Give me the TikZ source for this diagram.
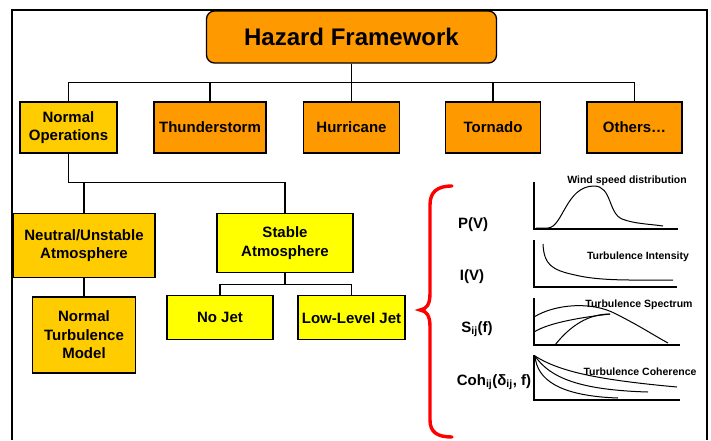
\documentclass[tikz,border=0pt]{standalone}
\usepackage{fontspec}
\setmainfont{Liberation Sans}
\usepackage{tikz}
\usetikzlibrary{positioning}

\definecolor{hazorange}{HTML}{FF9900}
\definecolor{opsyellow}{HTML}{FFCC00}
\definecolor{stableyellow}{HTML}{FFFF00}

\begin{document}
\begin{tikzpicture}[x=1pt, y=-1pt, line width=1.1pt,
font=\bfseries\fontsize{15}{18.5}\selectfont,
box/.style={draw, line width=1.3pt, align=center, inner sep=0pt},
axis/.style={line width=2pt},
curve/.style={line width=1pt},
plotlabel/.style={font=\bfseries\fontsize{10.5}{12}\selectfont, inner sep=0pt},
node distance = 141.5pt]

\useasboundingbox (0,0) rectangle (711,440);

% frame
\draw [line width=1.6pt] (12,440) -- (12,10) -- (707,10) -- (707,440);

\node [box, rounded corners=8pt, fill=hazorange, minimum width=290pt, minimum height=52pt,
font=\bfseries\fontsize{24}{28}\selectfont] (hazard) at (351.5,37) {Hazard Framework};

\node [box, fill=opsyellow, minimum width=97pt, minimum height=51pt] (normal) at (68.5,127.5) {Normal\\Operations};
\node [box, fill=hazorange, minimum width=112pt, minimum height=51pt] (thunder) [right of=normal] {Thunderstorm};
\node [box, fill=hazorange, minimum width=96pt, minimum height=51pt] (hurricane) [right of=thunder] {Hurricane};
\node [box, fill=hazorange, minimum width=95pt, minimum height=51pt] (tornado) [right of=hurricane] {Tornado};
\node [box, fill=hazorange, minimum width=95pt, minimum height=51pt] (others) [right of=tornado] {Others…};

\draw (hazard.south) -- ++(0,19) -| (normal.north);
\draw (hazard.south) -- ++(0,19) -| (thunder.north);
\draw (hazard.south) -- (hurricane.north);
\draw (hazard.south) -- ++(0,19) -| (tornado.north);
\draw (hazard.south) -- ++(0,19) -| (others.north);

\node [box, fill=opsyellow, minimum width=142pt, minimum height=64pt, anchor=north] (neutral) at (84,213) {Neutral/Unstable\\Atmosphere};
\node [box, fill=stableyellow, minimum width=136pt, minimum height=59pt, anchor=north] (stable) at (285,213) {Stable\\Atmosphere};
\node [box, fill=opsyellow, minimum width=103pt, minimum height=76pt] (model) [below=18pt of neutral] {Normal\\Turbulence\\Model};
\node [box, fill=stableyellow, minimum width=106pt, minimum height=44pt, anchor=north] (nojet) at (220,295) {No Jet};
\node [box, fill=stableyellow, minimum width=107pt, minimum height=44pt, anchor=north] (lowjet) at (351.5,295) {Low-Level Jet};

\draw (normal.south) |- ++(0,29) -| (neutral.north);
\draw (normal.south) |- ++(0,29) -| (stable.north);
\draw (neutral) -- (model);
\draw (stable.south) -- ++(0,11) -| (nojet.north);
\draw (stable.south) -- ++(0,11) -| (lowjet.north);

% brace
\draw [red, line width=3.4pt, line cap=round] (452,186) .. controls (437,186) and (430,192) .. (430,205)
  -- (430,293) .. controls (430,304) and (427,309) .. (420,310)
  .. controls (427,311) and (430,316) .. (430,327) -- (430,420)
  .. controls (430,432) and (437,437) .. (452,437);

\node (pv) at (473,225) {P(V)};
\node (iv) at (472,277) {I(V)};
\node (sij) at (477,329) {S\textsubscript{ij}(f)};
\node (coh) at (494,382) {Coh\textsubscript{ij}(δ\textsubscript{ij}, f)};

% wind speed distribution
\draw [axis] (534,182) -- (534,229) -- (678,229);
\draw [curve] (536,228) -- (548,228) .. controls (563,227) and (566,186) .. (594,186)
  .. controls (612,186) and (608,213) .. (622,219) .. controls (635,224) and (650,224) .. (663,226);
\node [plotlabel] (wsd) at (627,181) {Wind speed distribution};

% turbulence intensity
\draw [axis] (534,240) -- (534,287) -- (677,287);
\draw [curve] (543,244) .. controls (544,265) and (552,270) .. (575,275) .. controls (600,281) and (630,280) .. (673,280);
\node [plotlabel] (ti) at (638,257) {Turbulence Intensity};

% turbulence spectrum
\draw [axis] (534,298) -- (534,345) -- (680,345);
\draw [curve] (534,317) .. controls (555,304) and (592,301) .. (616,314) .. controls (640,326) and (655,336) .. (668,343);
\draw [curve] (534,332) .. controls (550,322) and (585,317) .. (610,314);
\draw [curve] (555,345) .. controls (570,326) and (588,314) .. (610,314);
\node [plotlabel] (ts) at (639,305) {Turbulence Spectrum};

% turbulence coherence
\draw [axis] (534,355) -- (534,400) -- (680,400);
\draw [curve] (535,356) .. controls (560,372) and (600,380) .. (677,387);
\draw [curve] (535,356) .. controls (550,378) and (580,390) .. (648,392);
\draw [curve] (535,356) .. controls (537,380) and (560,396) .. (618,398);
\node [plotlabel] (tc) at (640,372) {Turbulence Coherence};
\end{tikzpicture}
\end{document}
